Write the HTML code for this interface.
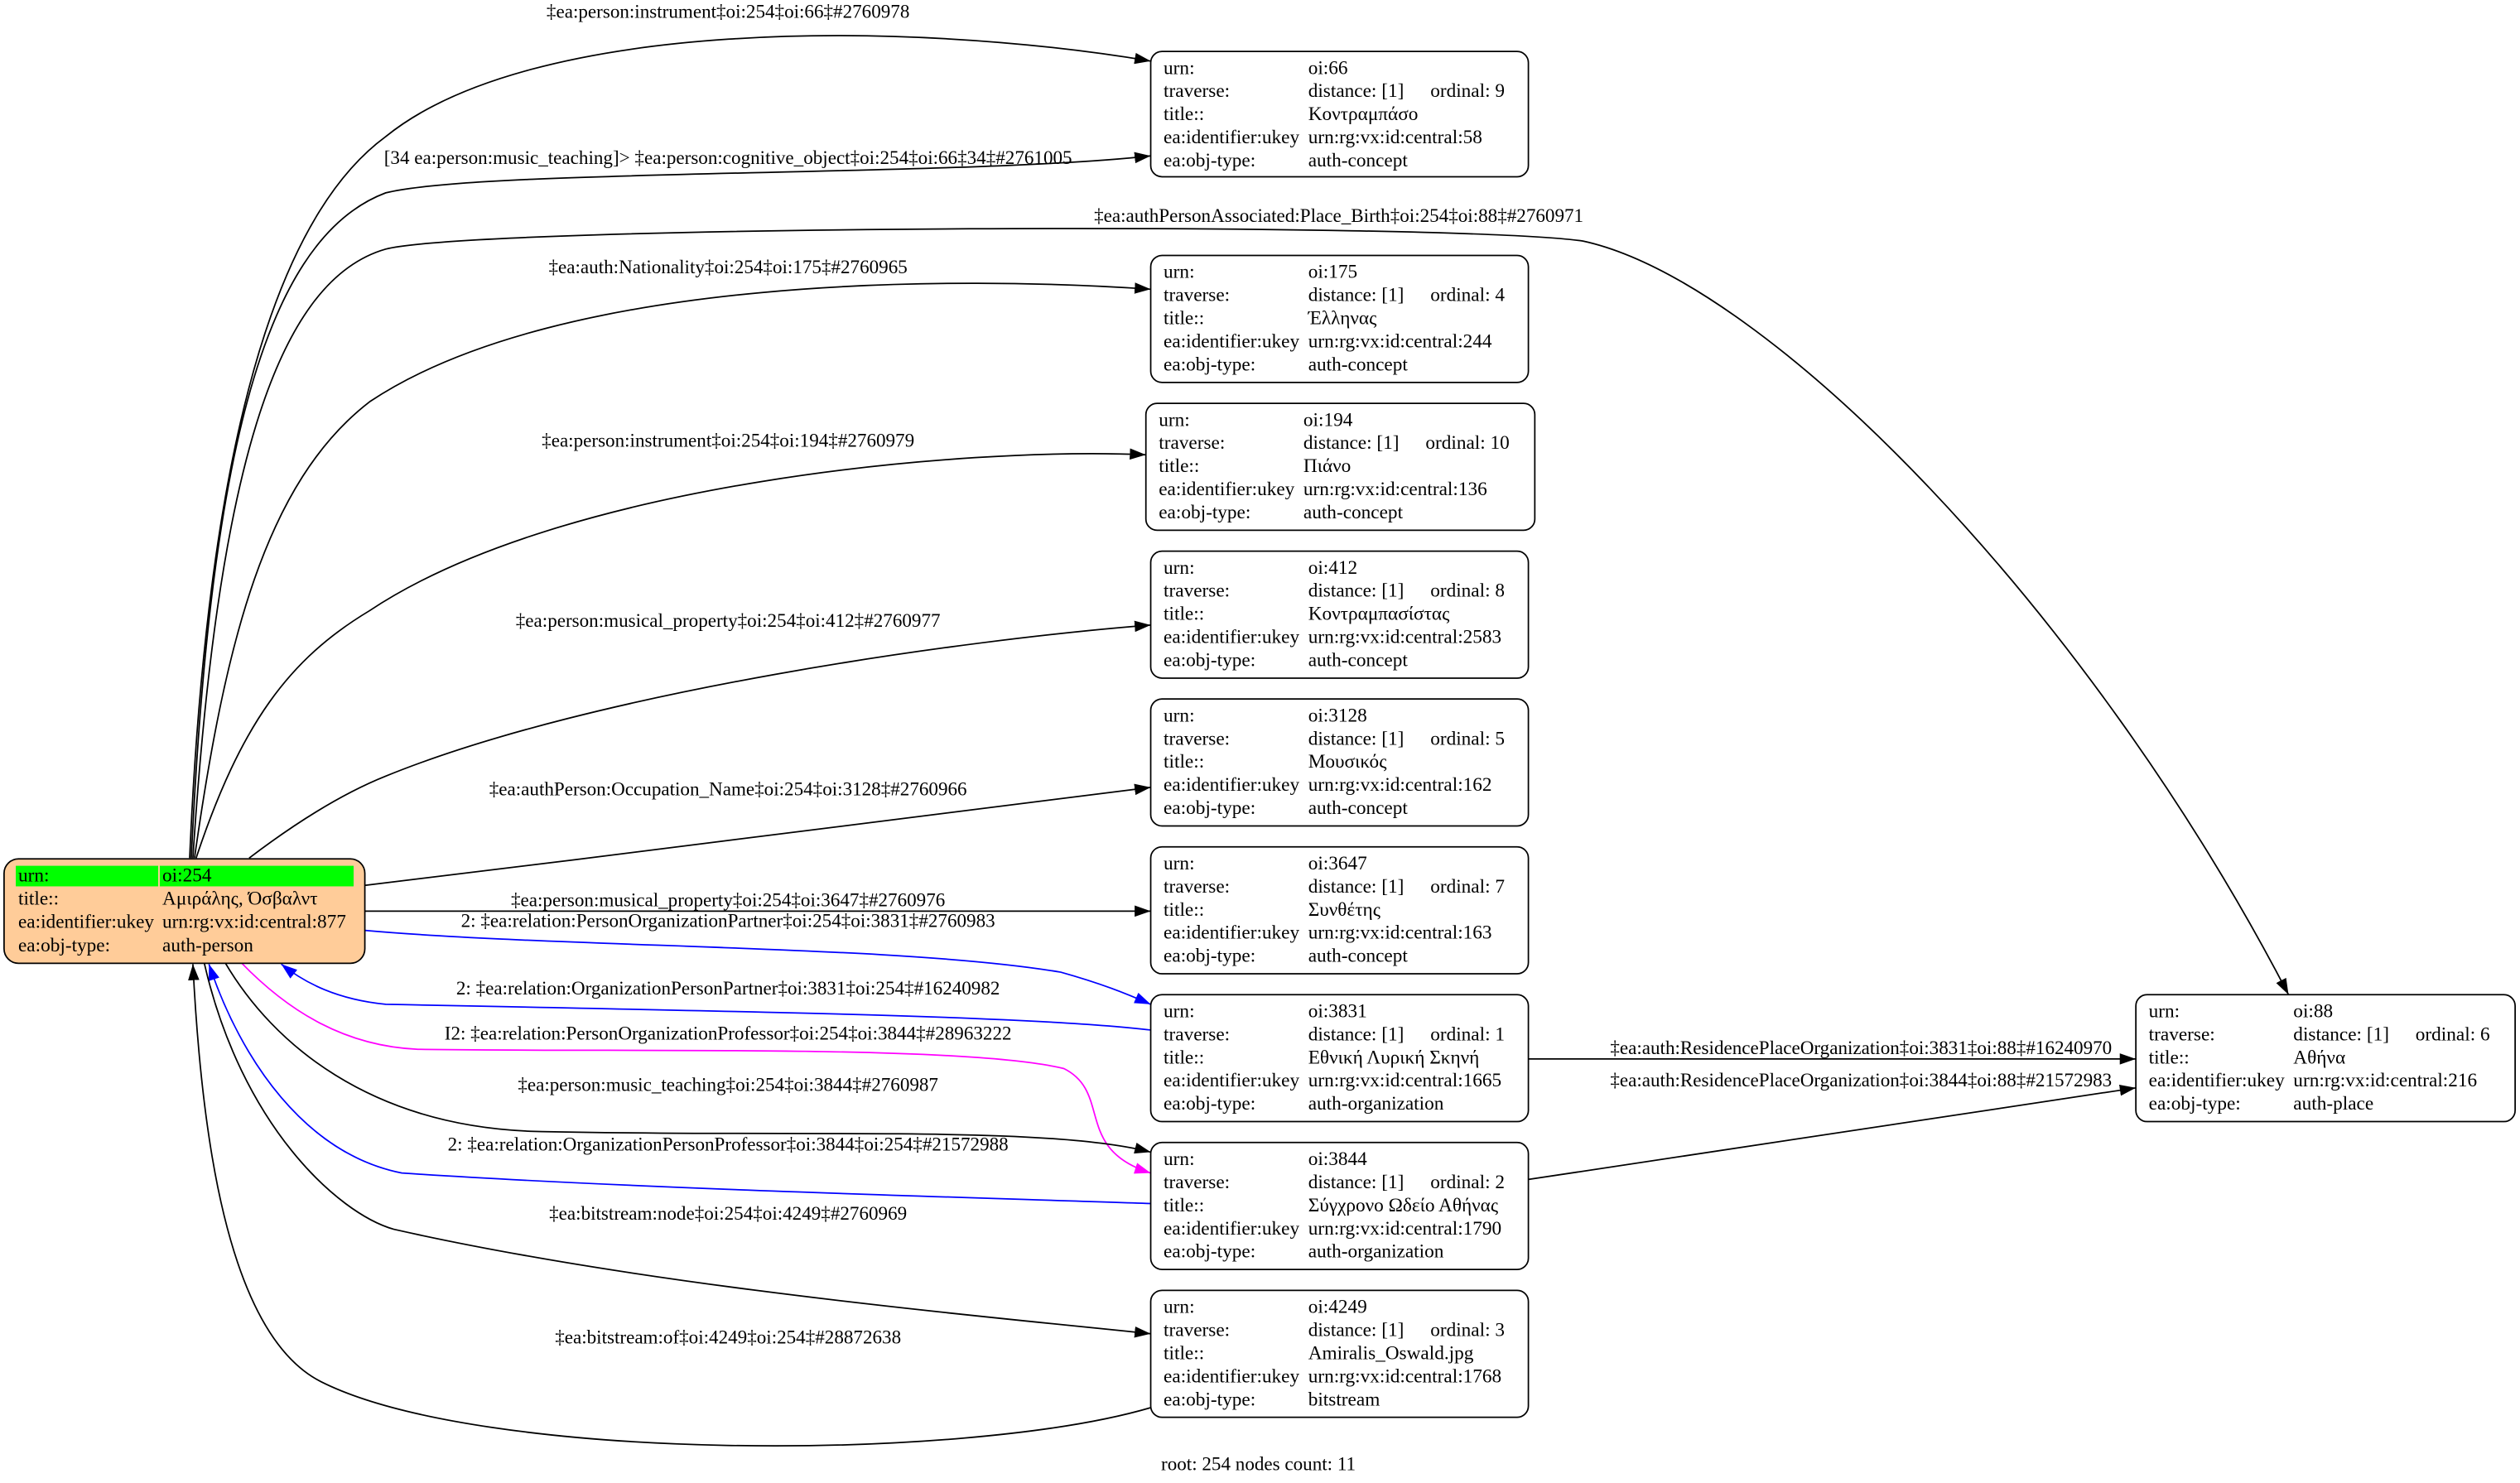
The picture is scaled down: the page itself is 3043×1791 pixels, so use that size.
<!DOCTYPE html>
<html><head><meta charset="utf-8"><style>
html,body{margin:0;padding:0;background:#fff;}
svg{display:block;}
text{font-family:"Liberation Serif","DejaVu Serif",serif;font-size:12px;fill:#000;}
.lab{font-size:11.9px;text-anchor:middle;}
.e{fill:none;stroke:#000;stroke-width:0.9;}
.b{stroke:#0000ff;}
.m{stroke:#ff00ff;}
.n{fill:#fff;stroke:#000;stroke-width:0.9;}
</style></head><body>
<svg width="3043" height="1791" viewBox="0 0 1568 922.9" xmlns="http://www.w3.org/2000/svg">
<defs>
<marker id="ak" markerUnits="userSpaceOnUse" markerWidth="11" markerHeight="8" refX="10" refY="4" orient="auto"><path d="M0,0.5 L10,4 L0,7.5 z" fill="#000"/></marker>
<marker id="ab" markerUnits="userSpaceOnUse" markerWidth="11" markerHeight="8" refX="10" refY="4" orient="auto"><path d="M0,0.5 L10,4 L0,7.5 z" fill="#00f"/></marker>
<marker id="am" markerUnits="userSpaceOnUse" markerWidth="11" markerHeight="8" refX="10" refY="4" orient="auto"><path d="M0,0.5 L10,4 L0,7.5 z" fill="#f0f"/></marker>
</defs>

<path class="e" marker-end="url(#ak)" d="M118,534 C128,300 165,140 240,85 C330,12 560,12 716,38"/>
<path class="e" marker-end="url(#ak)" d="M119,534 C130,300 160,150 240,120 C300,105 600,110 716,97"/>
<path class="e" marker-end="url(#ak)" d="M120,534 C135,300 170,175 240,155 C300,140 900,138 985,150 C1100,175 1300,380 1424,619"/>
<path class="e" marker-end="url(#ak)" d="M121,534 C140,400 165,300 230,250 C350,170 600,172 716,180"/>
<path class="e" marker-end="url(#ak)" d="M122,534 C150,450 180,410 230,380 C350,300 600,278 713,283"/>
<path class="e" marker-end="url(#ak)" d="M155,534 C180,515 210,495 240,483 C370,430 600,398 716,389"/>
<path class="e" marker-end="url(#ak)" d="M227,551 C400,530 600,505 716,490"/>
<path class="e" marker-end="url(#ak)" d="M227,567 L716,567"/>
<path class="e b" marker-end="url(#ab)" d="M227,579 C350,590 560,588 660,605 C685,612 700,618 716,625"/>
<path class="e b" marker-end="url(#ab)" d="M716,641 C650,633 500,630 240,625 C210,622 190,612 175,600"/>
<path class="e m" marker-end="url(#am)" d="M150,599 C180,630 215,651 260,653 C400,655 600,650 662,665 C692,680 668,715 716,730"/>
<path class="e" marker-end="url(#ak)" d="M140,599 C170,650 230,700 330,704 C500,708 650,700 716,717"/>
<path class="e b" marker-end="url(#ab)" d="M716,749 C600,745 400,740 250,730 C190,718 150,660 130,600"/>
<path class="e" marker-end="url(#ak)" d="M127,599 C150,700 210,755 245,765 C400,800 600,818 716,830"/>
<path class="e" marker-end="url(#ak)" d="M716,876 C600,910 300,910 200,860 C140,830 125,700 120,600"/>
<path class="e" marker-end="url(#ak)" d="M951,659 L1329,659"/>
<path class="e" marker-end="url(#ak)" d="M951,734 L1329,677"/>

<text class="lab" x="453" y="11">‡ea:person:instrument‡oi:254‡oi:66‡#2760978</text>
<text class="lab" x="453" y="102">[34 ea:person:music_teaching]&gt; ‡ea:person:cognitive_object‡oi:254‡oi:66‡34‡#2761005</text>
<text class="lab" x="833" y="138">‡ea:authPersonAssociated:Place_Birth‡oi:254‡oi:88‡#2760971</text>
<text class="lab" x="453" y="170">‡ea:auth:Nationality‡oi:254‡oi:175‡#2760965</text>
<text class="lab" x="453" y="278">‡ea:person:instrument‡oi:254‡oi:194‡#2760979</text>
<text class="lab" x="453" y="390">‡ea:person:musical_property‡oi:254‡oi:412‡#2760977</text>
<text class="lab" x="453" y="495">‡ea:authPerson:Occupation_Name‡oi:254‡oi:3128‡#2760966</text>
<text class="lab" x="453" y="564">‡ea:person:musical_property‡oi:254‡oi:3647‡#2760976</text>
<text class="lab" x="453" y="577">2: ‡ea:relation:PersonOrganizationPartner‡oi:254‡oi:3831‡#2760983</text>
<text class="lab" x="453" y="619">2: ‡ea:relation:OrganizationPersonPartner‡oi:3831‡oi:254‡#16240982</text>
<text class="lab" x="453" y="647">I2: ‡ea:relation:PersonOrganizationProfessor‡oi:254‡oi:3844‡#28963222</text>
<text class="lab" x="453" y="679">‡ea:person:music_teaching‡oi:254‡oi:3844‡#2760987</text>
<text class="lab" x="453" y="716">2: ‡ea:relation:OrganizationPersonProfessor‡oi:3844‡oi:254‡#21572988</text>
<text class="lab" x="453" y="759">‡ea:bitstream:node‡oi:254‡oi:4249‡#2760969</text>
<text class="lab" x="453" y="836">‡ea:bitstream:of‡oi:4249‡oi:254‡#28872638</text>
<text class="lab" x="1158" y="656">‡ea:auth:ResidencePlaceOrganization‡oi:3831‡oi:88‡#16240970</text>
<text class="lab" x="1158" y="676">‡ea:auth:ResidencePlaceOrganization‡oi:3844‡oi:88‡#21572983</text>

<rect x="2.5" y="534.5" width="224.5" height="65" rx="9" fill="#ffcc99" stroke="#000" stroke-width="0.9"/>
<rect x="9.8" y="538.8" width="88.6" height="12.8" fill="#00ff00"/>
<rect x="99.4" y="538.8" width="120.6" height="12.8" fill="#00ff00"/>
<text x="11.3" y="548.5">urn:</text><text x="101" y="548.5">oi:254</text>
<text x="11.3" y="563">title::</text><text x="101" y="563">Αμιράλης, Όσβαλντ</text>
<text x="11.3" y="577.5">ea:identifier:ukey</text><text x="101" y="577.5">urn:rg:vx:id:central:877</text>
<text x="11.3" y="592">ea:obj-type:</text><text x="101" y="592">auth-person</text>

<g transform="translate(716,32)"><rect class="n" x="0" y="0" width="235" height="78" rx="7"/>
<text x="8" y="14">urn:</text><text x="98" y="14">oi:66</text>
<text x="8" y="28.4">traverse:</text><text x="98" y="28.4">distance: [1]</text><text x="174" y="28.4">ordinal: 9</text>
<text x="8" y="42.8">title::</text><text x="98" y="42.8">Κοντραμπάσο</text>
<text x="8" y="57.2">ea:identifier:ukey</text><text x="98" y="57.2">urn:rg:vx:id:central:58</text>
<text x="8" y="71.6">ea:obj-type:</text><text x="98" y="71.6">auth-concept</text></g>

<g transform="translate(716,159)"><rect class="n" x="0" y="0" width="235" height="79" rx="7"/>
<text x="8" y="14">urn:</text><text x="98" y="14">oi:175</text>
<text x="8" y="28.4">traverse:</text><text x="98" y="28.4">distance: [1]</text><text x="174" y="28.4">ordinal: 4</text>
<text x="8" y="42.8">title::</text><text x="98" y="42.8">Έλληνας</text>
<text x="8" y="57.2">ea:identifier:ukey</text><text x="98" y="57.2">urn:rg:vx:id:central:244</text>
<text x="8" y="71.6">ea:obj-type:</text><text x="98" y="71.6">auth-concept</text></g>

<g transform="translate(713,251)"><rect class="n" x="0" y="0" width="242" height="79" rx="7"/>
<text x="8" y="14">urn:</text><text x="98" y="14">oi:194</text>
<text x="8" y="28.4">traverse:</text><text x="98" y="28.4">distance: [1]</text><text x="174" y="28.4">ordinal: 10</text>
<text x="8" y="42.8">title::</text><text x="98" y="42.8">Πιάνο</text>
<text x="8" y="57.2">ea:identifier:ukey</text><text x="98" y="57.2">urn:rg:vx:id:central:136</text>
<text x="8" y="71.6">ea:obj-type:</text><text x="98" y="71.6">auth-concept</text></g>

<g transform="translate(716,343)"><rect class="n" x="0" y="0" width="235" height="79" rx="7"/>
<text x="8" y="14">urn:</text><text x="98" y="14">oi:412</text>
<text x="8" y="28.4">traverse:</text><text x="98" y="28.4">distance: [1]</text><text x="174" y="28.4">ordinal: 8</text>
<text x="8" y="42.8">title::</text><text x="98" y="42.8">Κοντραμπασίστας</text>
<text x="8" y="57.2">ea:identifier:ukey</text><text x="98" y="57.2">urn:rg:vx:id:central:2583</text>
<text x="8" y="71.6">ea:obj-type:</text><text x="98" y="71.6">auth-concept</text></g>

<g transform="translate(716,435)"><rect class="n" x="0" y="0" width="235" height="79" rx="7"/>
<text x="8" y="14">urn:</text><text x="98" y="14">oi:3128</text>
<text x="8" y="28.4">traverse:</text><text x="98" y="28.4">distance: [1]</text><text x="174" y="28.4">ordinal: 5</text>
<text x="8" y="42.8">title::</text><text x="98" y="42.8">Μουσικός</text>
<text x="8" y="57.2">ea:identifier:ukey</text><text x="98" y="57.2">urn:rg:vx:id:central:162</text>
<text x="8" y="71.6">ea:obj-type:</text><text x="98" y="71.6">auth-concept</text></g>

<g transform="translate(716,527)"><rect class="n" x="0" y="0" width="235" height="79" rx="7"/>
<text x="8" y="14">urn:</text><text x="98" y="14">oi:3647</text>
<text x="8" y="28.4">traverse:</text><text x="98" y="28.4">distance: [1]</text><text x="174" y="28.4">ordinal: 7</text>
<text x="8" y="42.8">title::</text><text x="98" y="42.8">Συνθέτης</text>
<text x="8" y="57.2">ea:identifier:ukey</text><text x="98" y="57.2">urn:rg:vx:id:central:163</text>
<text x="8" y="71.6">ea:obj-type:</text><text x="98" y="71.6">auth-concept</text></g>

<g transform="translate(716,619)"><rect class="n" x="0" y="0" width="235" height="79" rx="7"/>
<text x="8" y="14">urn:</text><text x="98" y="14">oi:3831</text>
<text x="8" y="28.4">traverse:</text><text x="98" y="28.4">distance: [1]</text><text x="174" y="28.4">ordinal: 1</text>
<text x="8" y="42.8">title::</text><text x="98" y="42.8">Εθνική Λυρική Σκηνή</text>
<text x="8" y="57.2">ea:identifier:ukey</text><text x="98" y="57.2">urn:rg:vx:id:central:1665</text>
<text x="8" y="71.6">ea:obj-type:</text><text x="98" y="71.6">auth-organization</text></g>

<g transform="translate(716,711)"><rect class="n" x="0" y="0" width="235" height="79" rx="7"/>
<text x="8" y="14">urn:</text><text x="98" y="14">oi:3844</text>
<text x="8" y="28.4">traverse:</text><text x="98" y="28.4">distance: [1]</text><text x="174" y="28.4">ordinal: 2</text>
<text x="8" y="42.8">title::</text><text x="98" y="42.8">Σύγχρονο Ωδείο Αθήνας</text>
<text x="8" y="57.2">ea:identifier:ukey</text><text x="98" y="57.2">urn:rg:vx:id:central:1790</text>
<text x="8" y="71.6">ea:obj-type:</text><text x="98" y="71.6">auth-organization</text></g>

<g transform="translate(716,803)"><rect class="n" x="0" y="0" width="235" height="79" rx="7"/>
<text x="8" y="14">urn:</text><text x="98" y="14">oi:4249</text>
<text x="8" y="28.4">traverse:</text><text x="98" y="28.4">distance: [1]</text><text x="174" y="28.4">ordinal: 3</text>
<text x="8" y="42.8">title::</text><text x="98" y="42.8">Amiralis_Oswald.jpg</text>
<text x="8" y="57.2">ea:identifier:ukey</text><text x="98" y="57.2">urn:rg:vx:id:central:1768</text>
<text x="8" y="71.6">ea:obj-type:</text><text x="98" y="71.6">bitstream</text></g>

<g transform="translate(1329,619)"><rect class="n" x="0" y="0" width="236" height="79" rx="7"/>
<text x="8" y="14">urn:</text><text x="98" y="14">oi:88</text>
<text x="8" y="28.4">traverse:</text><text x="98" y="28.4">distance: [1]</text><text x="174" y="28.4">ordinal: 6</text>
<text x="8" y="42.8">title::</text><text x="98" y="42.8">Αθήνα</text>
<text x="8" y="57.2">ea:identifier:ukey</text><text x="98" y="57.2">urn:rg:vx:id:central:216</text>
<text x="8" y="71.6">ea:obj-type:</text><text x="98" y="71.6">auth-place</text></g>

<text class="lab" x="783" y="915">root: 254 nodes count: 11</text>
</svg>
</body></html>
